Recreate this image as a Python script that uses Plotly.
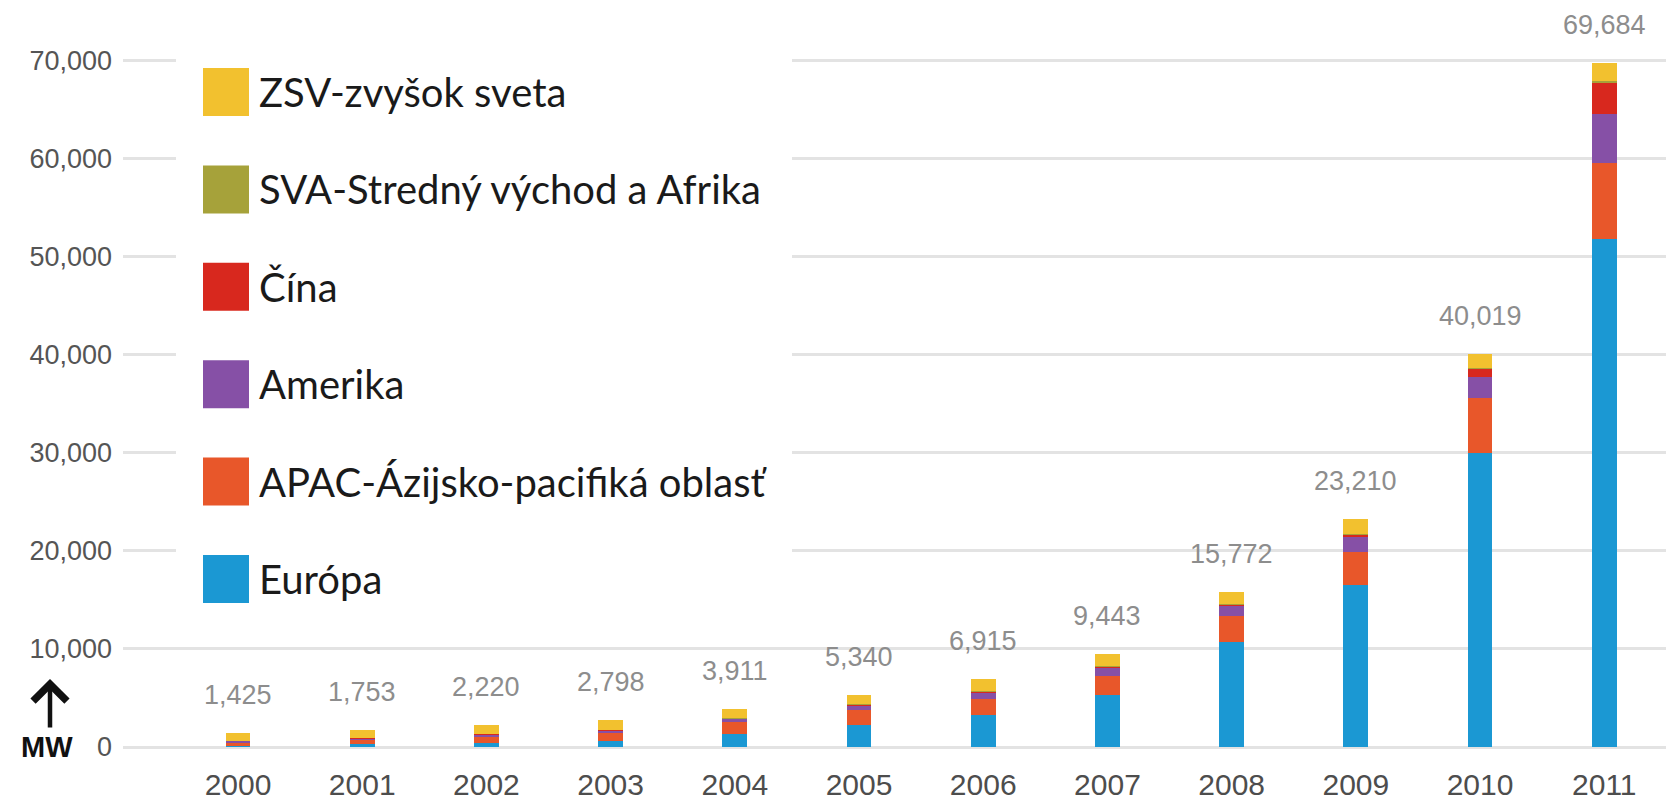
import plotly.graph_objects as go

# Cumulative installed PV capacity (MW) by region, 2000-2011
years = [str(y) for y in range(2000, 2012)]

europa = [129, 265, 399, 601, 1306, 2291, 3289, 5312, 10680, 16500, 30000, 51716]
apac = [368, 480, 640, 850, 1200, 1500, 1650, 1900, 2650, 3400, 5600, 7765]
amerika = [146, 170, 220, 280, 370, 480, 650, 850, 1050, 1500, 2100, 5053]
cina = [19, 24, 42, 52, 62, 70, 80, 150, 140, 300, 900, 3093]
sva = [0, 0, 0, 0, 1, 1, 2, 5, 10, 20, 30, 205]
zsv = [763, 814, 919, 1015, 972, 998, 1244, 1226, 1242, 1490, 1389, 1852]

# stacking order, bottom to top
series_names = [
    "Európa",
    "APAC-Ázijsko-pacifiká oblasť",
    "Amerika",
    "Čína",
    "SVA-Stredný východ a Afrika",
    "ZSV-zvyšok sveta",
]
series_values = [europa, apac, amerika, cina, sva, zsv]
series_colors = ["#1b98d3", "#e8572a", "#8650a6", "#d8281e", "#a6a23a", "#f2c12f"]

y_tick_vals = [0, 10000, 20000, 30000, 40000, 50000, 60000, 70000]
y_tick_text = ["0", "10,000", "20,000", "30,000", "40,000", "50,000", "60,000", "70,000"]

totals = [sum(vals) for vals in zip(*series_values)]

# page geometry (pixels) used to place the legend block and unit label
W, H = 1666, 805
PL, PR, PT, PB = 123, 0, 11, 58
PW, PH = W - PL - PR, H - PT - PB


def px(x):
    return (x - PL) / PW


def py(y):
    return (H - PB - y) / PH


fig = go.Figure()
for name, vals, color in zip(series_names, series_values, series_colors):
    fig.add_trace(go.Bar(
        x=years, y=vals, name=name, width=0.2,
        marker=dict(color=color, line=dict(width=0)),
        showlegend=False,
    ))

annotations = []
# total above each stacked bar (category index as x position)
for i, tot in enumerate(totals):
    annotations.append(dict(
        x=i, y=tot, xref="x", yref="y", text=f"{tot:,}",
        showarrow=False, yanchor="middle", yshift=38,
        font=dict(family="Liberation Sans", size=27, color="#8d8d8d"),
    ))

# legend block: white panel, big swatches, labels (top row = top of stack)
shapes = [dict(
    type="rect", xref="paper", yref="paper",
    x0=px(176), x1=px(792), y0=py(625), y1=py(28),
    fillcolor="white", line=dict(width=0), layer="above",
)]
row_y0, row_step = 92, 97.4
for k, (name, color) in enumerate(zip(series_names[::-1], series_colors[::-1])):
    cy = row_y0 + row_step * k
    shapes.append(dict(
        type="rect", xref="paper", yref="paper",
        x0=px(203), x1=px(249), y0=py(cy + 24), y1=py(cy - 24),
        fillcolor=color, line=dict(width=0), layer="above",
    ))
    annotations.append(dict(
        x=px(257), y=py(cy), xref="paper", yref="paper", text=name,
        showarrow=False, xanchor="left", yanchor="middle",
        font=dict(family="Lato", size=40, color="#1a1a1a"),
    ))

# unit label with upward arrow
annotations.append(dict(
    x=px(47), y=py(747), xref="paper", yref="paper", text="<b>MW</b>",
    showarrow=False, xanchor="center", yanchor="middle",
    font=dict(family="Liberation Sans", size=29, color="#111111"),
))
annotations.append(dict(
    x=px(50), y=py(679), xref="paper", yref="paper", text="",
    showarrow=True, ax=0, ay=50, arrowhead=4, arrowsize=1.45,
    arrowwidth=4.5, arrowcolor="#111111",
))

fig.update_layout(
    width=W, height=H,
    margin=dict(l=PL, r=PR, t=PT, b=PB, pad=0, autoexpand=False),
    barmode="stack",
    paper_bgcolor="white", plot_bgcolor="white",
    showlegend=False,
    annotations=annotations,
    shapes=shapes,
    xaxis=dict(
        type="category", range=[-0.926, 11.497], automargin=False,
        showgrid=False, showline=False, zeroline=False, ticks="",
        tickfont=dict(family="Liberation Sans", size=30, color="#4d4d4d"),
        ticklabelstandoff=17,
    ),
    yaxis=dict(
        range=[0, 75000], automargin=False,
        tickvals=y_tick_vals, ticktext=y_tick_text,
        showgrid=True, gridcolor="#e3e3e3", gridwidth=3,
        zeroline=True, zerolinecolor="#e3e3e3", zerolinewidth=3,
        showline=False, ticks="",
        tickfont=dict(family="Liberation Sans", size=27, color="#555555"),
        ticklabelstandoff=10,
    ),
)

fig.write_html("out.html")
